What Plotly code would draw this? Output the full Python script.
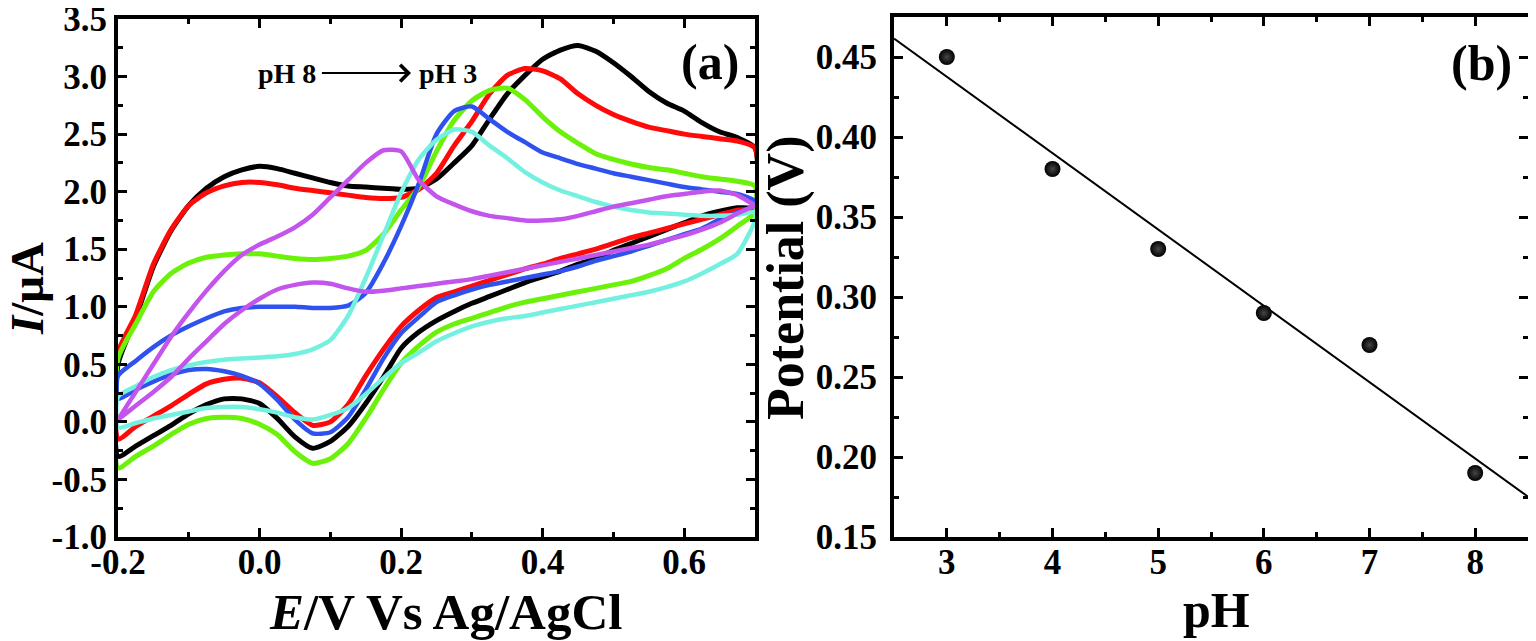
import numpy as np
import plotly.graph_objects as go

# potential grid (V vs Ag/AgCl) shared by every voltammogram
E_GRID = [-0.2, -0.175, -0.15, -0.125, -0.1, -0.075, -0.05, -0.025, 0.0, 0.025,
          0.05, 0.075, 0.1, 0.125, 0.15, 0.175, 0.2, 0.225, 0.25, 0.275,
          0.3, 0.325, 0.35, 0.375, 0.4, 0.425, 0.45, 0.475, 0.5, 0.525,
          0.55, 0.575, 0.6, 0.625, 0.65, 0.675, 0.7]

# current (uA), forward (upper) and reverse (lower) branch, both listed along E_GRID
black_fwd = [0.50, 0.90, 1.35, 1.66, 1.88, 2.03, 2.13, 2.19, 2.22, 2.20, 2.16, 2.12, 2.08, 2.05, 2.04, 2.03, 2.02, 2.03, 2.11, 2.25,
             2.40, 2.63, 2.85, 3.01, 3.15, 3.23, 3.27, 3.22, 3.12, 3.00, 2.87, 2.77, 2.70, 2.60, 2.52, 2.47, 2.38]
black_rev = [-0.30, -0.21, -0.12, -0.03, 0.07, 0.15, 0.20, 0.20, 0.16, 0.03, -0.13, -0.23, -0.17, -0.04, 0.16, 0.39, 0.64, 0.78, 0.88, 0.96,
             1.03, 1.09, 1.15, 1.21, 1.26, 1.31, 1.37, 1.42, 1.49, 1.55, 1.61, 1.67, 1.73, 1.79, 1.83, 1.86, 1.87]

red_fwd = [0.60, 0.93, 1.37, 1.67, 1.88, 1.99, 2.05, 2.08, 2.08, 2.06, 2.03, 2.01, 1.99, 1.97, 1.95, 1.94, 1.95, 2.02, 2.16, 2.40,
           2.61, 2.85, 3.01, 3.07, 3.05, 2.98, 2.85, 2.75, 2.67, 2.61, 2.56, 2.53, 2.50, 2.48, 2.46, 2.44, 2.38]
red_rev = [-0.15, -0.04, 0.05, 0.14, 0.24, 0.33, 0.37, 0.38, 0.34, 0.22, 0.08, -0.03, 0.00, 0.15, 0.40, 0.63, 0.83, 0.97, 1.08, 1.13,
           1.18, 1.23, 1.28, 1.33, 1.37, 1.42, 1.46, 1.50, 1.55, 1.60, 1.64, 1.68, 1.72, 1.76, 1.80, 1.84, 1.86]

green_fwd = [0.55, 0.85, 1.13, 1.29, 1.38, 1.43, 1.45, 1.46, 1.46, 1.44, 1.42, 1.41, 1.42, 1.44, 1.49, 1.63, 1.84, 2.04, 2.35, 2.62,
             2.79, 2.88, 2.90, 2.80, 2.65, 2.52, 2.42, 2.33, 2.28, 2.24, 2.21, 2.19, 2.16, 2.13, 2.11, 2.09, 2.05]
green_rev = [-0.40, -0.30, -0.21, -0.11, -0.02, 0.03, 0.04, 0.03, -0.02, -0.11, -0.26, -0.36, -0.32, -0.19, 0.03, 0.28, 0.51, 0.66, 0.78, 0.85,
             0.90, 0.95, 1.00, 1.04, 1.07, 1.10, 1.13, 1.16, 1.19, 1.22, 1.27, 1.33, 1.42, 1.50, 1.59, 1.70, 1.82]

blue_fwd = [0.40, 0.53, 0.65, 0.75, 0.83, 0.90, 0.96, 0.99, 1.00, 1.00, 1.00, 0.99, 0.99, 1.01, 1.12, 1.38, 1.70, 2.07, 2.50, 2.70,
            2.74, 2.63, 2.52, 2.43, 2.34, 2.29, 2.24, 2.20, 2.16, 2.13, 2.10, 2.07, 2.04, 2.02, 2.00, 1.98, 1.92]
blue_rev = [0.20, 0.28, 0.35, 0.41, 0.45, 0.46, 0.44, 0.40, 0.33, 0.19, 0.02, -0.10, -0.09, 0.04, 0.28, 0.55, 0.77, 0.91, 1.04, 1.10,
            1.15, 1.19, 1.22, 1.25, 1.28, 1.31, 1.35, 1.40, 1.44, 1.48, 1.53, 1.58, 1.63, 1.68, 1.76, 1.82, 1.88]

cyan_fwd = [0.22, 0.31, 0.39, 0.45, 0.49, 0.52, 0.54, 0.55, 0.56, 0.57, 0.59, 0.63, 0.71, 0.92, 1.25, 1.62, 1.99, 2.28, 2.45, 2.54,
            2.52, 2.40, 2.29, 2.17, 2.08, 2.01, 1.96, 1.91, 1.87, 1.84, 1.82, 1.81, 1.80, 1.79, 1.79, 1.80, 1.82]
cyan_rev = [-0.05, -0.01, 0.03, 0.06, 0.09, 0.12, 0.13, 0.13, 0.11, 0.08, 0.04, 0.02, 0.06, 0.12, 0.24, 0.38, 0.51, 0.60, 0.70, 0.77,
            0.83, 0.87, 0.90, 0.92, 0.95, 0.98, 1.01, 1.04, 1.07, 1.10, 1.13, 1.17, 1.22, 1.29, 1.37, 1.46, 1.75]

magenta_fwd = [0.02, 0.26, 0.50, 0.74, 0.95, 1.14, 1.31, 1.45, 1.54, 1.61, 1.69, 1.80, 1.95, 2.10, 2.25, 2.36, 2.35, 2.10, 1.96, 1.89,
               1.83, 1.79, 1.77, 1.75, 1.75, 1.76, 1.79, 1.83, 1.87, 1.90, 1.93, 1.96, 1.98, 2.00, 2.01, 1.97, 1.88]
magenta_rev = [0.02, 0.14, 0.26, 0.39, 0.55, 0.70, 0.85, 0.97, 1.07, 1.15, 1.19, 1.21, 1.20, 1.16, 1.13, 1.14, 1.16, 1.18, 1.20, 1.22,
               1.24, 1.27, 1.30, 1.33, 1.36, 1.39, 1.42, 1.45, 1.48, 1.51, 1.54, 1.58, 1.62, 1.67, 1.73, 1.81, 1.88]

# panel (b): peak potential vs pH
PH = [3, 4, 5, 6, 7, 8]
PEAK_V = [0.45, 0.38, 0.33, 0.29, 0.27, 0.19]

A_X_TICKS = [-0.2, 0.0, 0.2, 0.4, 0.6]
A_Y_TICKS = [-1.0, -0.5, 0.0, 0.5, 1.0, 1.5, 2.0, 2.5, 3.0, 3.5]
B_X_TICKS = [3, 4, 5, 6, 7, 8]
B_Y_TICKS = [0.15, 0.20, 0.25, 0.30, 0.35, 0.40, 0.45]

# the page body has an 8px margin, so the figure is drawn 8px smaller and shifted
PAGE_MARGIN = 8
W, H = 1536 - PAGE_MARGIN, 641 - PAGE_MARGIN
FONT = "Liberation Serif"

curves = [
    ("pH 3", black_fwd, black_rev, "#000000", 5),
    ("pH 4", red_fwd, red_rev, "#ff0a0a", 5),
    ("pH 5", green_fwd, green_rev, "#6cf20a", 5),
    ("pH 6", blue_fwd, blue_rev, "#2f52ee", 4.5),
    ("pH 7", cyan_fwd, cyan_rev, "#74f0e0", 4.5),
    ("pH 8", magenta_fwd, magenta_rev, "#c455ec", 4.5),
]

fig = go.Figure()

for name, fwd, rev, color, lw in curves:
    # one closed loop: forward scan then the way back
    xs = list(E_GRID) + list(E_GRID[::-1]) + [E_GRID[0]]
    ys = list(fwd) + list(rev[::-1]) + [fwd[0]]
    fig.add_trace(go.Scatter(x=xs, y=ys, mode="lines", name=name,
                             line=dict(color=color, width=lw, shape="spline", smoothing=0.6),
                             xaxis="x", yaxis="y"))

# linear fit for panel (b)
slope, intercept = np.polyfit(PH, PEAK_V, 1)
b_xrange = [2.5, 8.5]
fit_x = np.array(b_xrange)
fig.add_trace(go.Scatter(x=fit_x, y=slope * fit_x + intercept, mode="lines",
                         line=dict(color="black", width=2), xaxis="x2", yaxis="y2"))
fig.add_trace(go.Scatter(x=PH, y=PEAK_V, mode="markers",
                         marker=dict(size=16, color="#000000",
                                     gradient=dict(type="radial", color="#474747"),
                                     line=dict(width=0)),
                         xaxis="x2", yaxis="y2"))


def px_x(p):
    return (p - PAGE_MARGIN) / W


def px_y(p):
    return 1 - (p - PAGE_MARGIN) / H


tickfont = dict(family=FONT, size=35, color="black", weight="bold")
minor_common = dict(ticks="inside", ticklen=5, tickwidth=3, tickcolor="black")
axis_common = dict(showline=True, linecolor="black", linewidth=4, mirror="ticks",
                   ticks="inside", ticklen=9, tickwidth=3, tickcolor="black",
                   showgrid=False, zeroline=False, tickfont=tickfont, automargin=False,
                   ticklabeloverflow="allow")

fig.update_layout(
    width=W, height=H,
    margin=dict(l=0, r=0, t=0, b=0, autoexpand=False),
    paper_bgcolor="white", plot_bgcolor="white",
    showlegend=False,
    xaxis=dict(domain=[px_x(118), px_x(755)], anchor="y", range=[-0.2, 0.7],
               tickmode="array", tickvals=A_X_TICKS, ticktext=[f"{v:.1f}" for v in A_X_TICKS],
               minor=dict(dtick=0.1, tick0=-0.2, **minor_common),
               ticklabelstandoff=-9, **axis_common),
    yaxis=dict(domain=[px_y(537), px_y(19)], anchor="x", range=[-1.0, 3.5],
               tickmode="array", tickvals=A_Y_TICKS, ticktext=[f"{v:.1f}" for v in A_Y_TICKS],
               minor=dict(dtick=0.25, tick0=-1.0, **minor_common),
               **axis_common),
    xaxis2=dict(domain=[px_x(894), px_x(1528)], anchor="y2", range=b_xrange,
                tickmode="array", tickvals=B_X_TICKS, ticktext=[str(v) for v in B_X_TICKS],
                minor=dict(dtick=0.5, tick0=2.5, **minor_common),
                ticklabelstandoff=-9, **axis_common),
    yaxis2=dict(domain=[px_y(537), px_y(17)], anchor="x2", range=[0.15, 0.475],
                tickmode="array", tickvals=B_Y_TICKS, ticktext=[f"{v:.2f}" for v in B_Y_TICKS],
                minor=dict(dtick=0.025, tick0=0.15, **minor_common),
                ticklabelstandoff=6, **axis_common),
)


def title_font(size):
    return dict(family=FONT, size=size, color="black")


annotations = [
    dict(text="<b><i>E</i>/V Vs Ag/AgCl</b>", x=px_x(445), y=px_y(612), xref="paper", yref="paper",
         showarrow=False, font=title_font(51), xanchor="center", yanchor="middle"),
    dict(text="<b><i>I</i>/μA</b>", x=px_x(27), y=px_y(289), xref="paper", yref="paper",
         showarrow=False, font=title_font(47), textangle=-90, xanchor="center", yanchor="middle"),
    dict(text="<b>pH</b>", x=px_x(1216), y=px_y(610), xref="paper", yref="paper",
         showarrow=False, font=title_font(50), xanchor="center", yanchor="middle"),
    dict(text="<b>Potential (V)</b>", x=px_x(786), y=px_y(278), xref="paper", yref="paper",
         showarrow=False, font=title_font(52), textangle=-90, xanchor="center", yanchor="middle"),
    dict(text="<b>(a)</b>", x=px_x(710), y=px_y(62), xref="paper", yref="paper",
         showarrow=False, font=title_font(50), xanchor="center", yanchor="middle"),
    dict(text="<b>(b)</b>", x=px_x(1481), y=px_y(63), xref="paper", yref="paper",
         showarrow=False, font=title_font(50), xanchor="center", yanchor="middle"),
    dict(text="<b>pH 8</b>", x=0.039, y=3.03, xref="x", yref="y", showarrow=False,
         font=title_font(28)),
    dict(text="<b>pH 3</b>", x=0.266, y=3.03, xref="x", yref="y", showarrow=False,
         font=title_font(28)),
    dict(text="", x=0.214, y=3.03, ax=0.086, ay=3.03, xref="x", yref="y", axref="x", ayref="y",
         showarrow=True, arrowhead=4, arrowsize=1.6, arrowwidth=2, arrowcolor="black"),
]
fig.update_layout(annotations=annotations)

fig.write_html("out.html")
